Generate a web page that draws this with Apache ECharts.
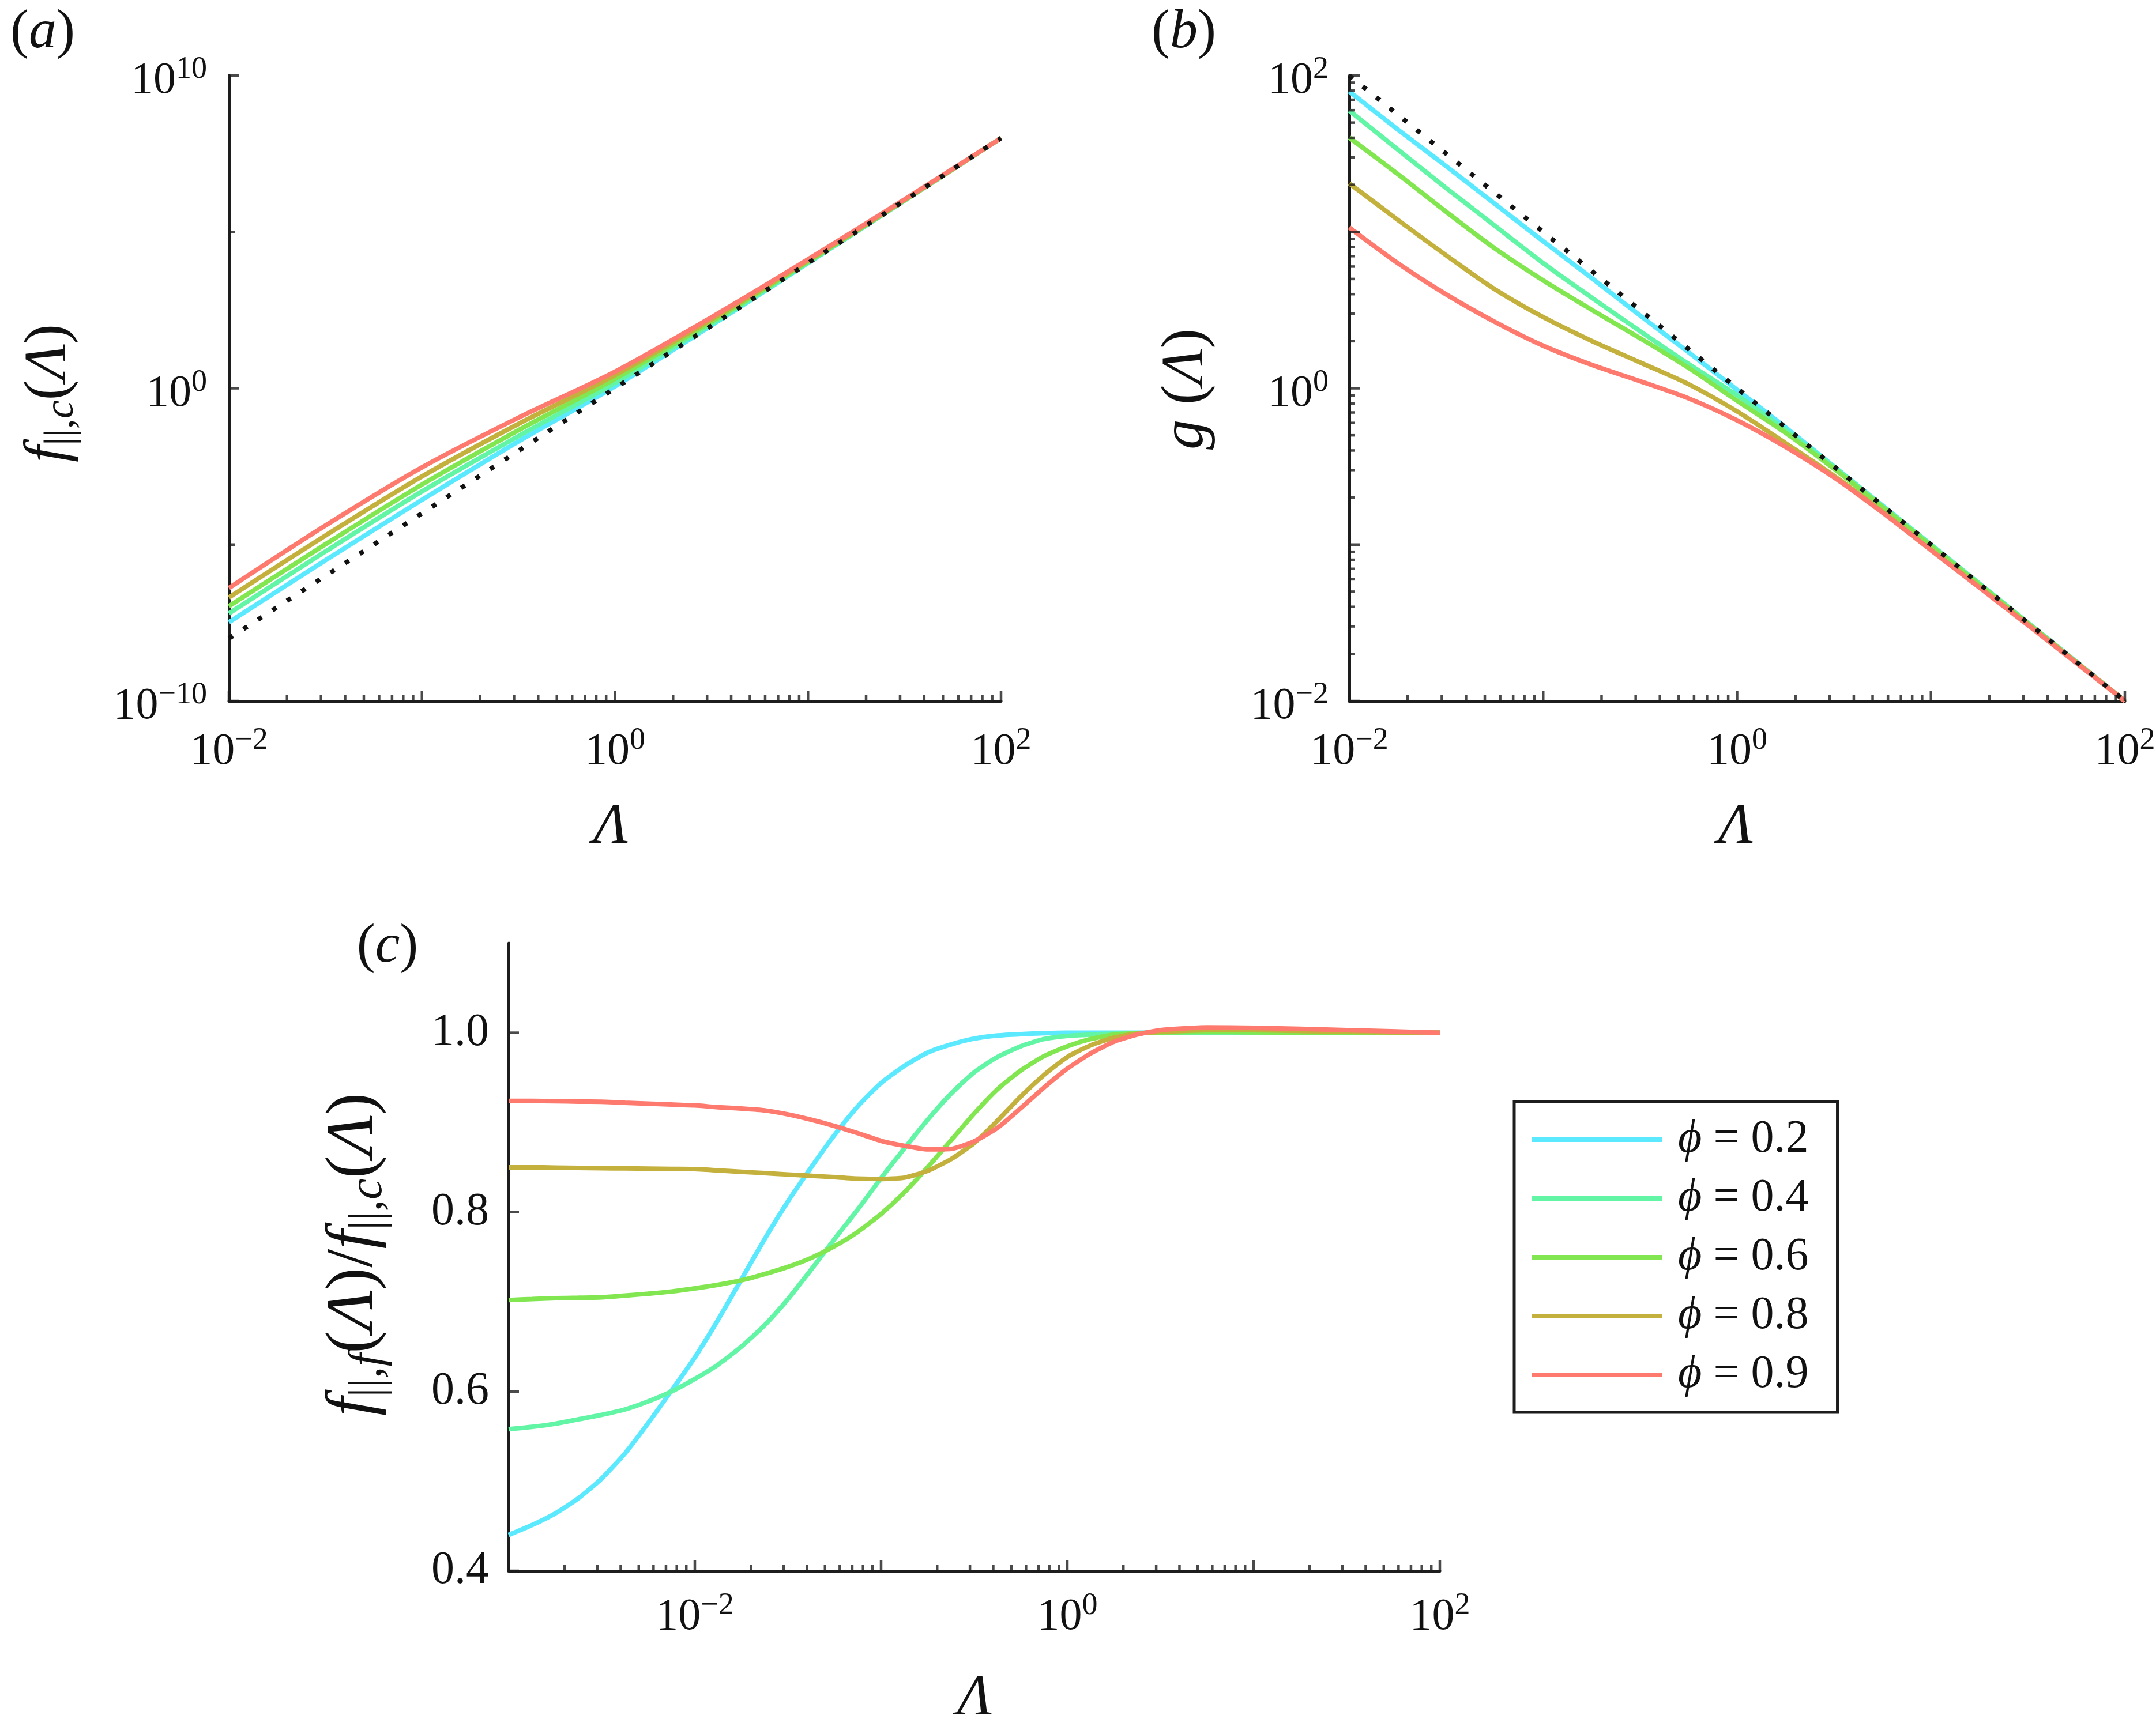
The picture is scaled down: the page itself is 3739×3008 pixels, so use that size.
<!DOCTYPE html>
<html>
<head>
<meta charset="utf-8">
<script src="https://cdn.jsdelivr.net/npm/echarts@6/dist/echarts.min.js"></script>
<style>
html,body{margin:0;padding:0;background:#ffffff;}
#chart{width:3739px;height:3008px;}
</style>
</head>
<body>
<div id="chart"></div>
<script>
// ------------------------------------------------------------------
// Data (exponents are log10 values)
// ------------------------------------------------------------------
const phiNames = ['ϕ = 0.2', 'ϕ = 0.4', 'ϕ = 0.6', 'ϕ = 0.8', 'ϕ = 0.9'];

// Panel (a): log10(Λ) and log10 f_{||,c}(Λ)
const aLogLam  = [-2, -1.5, -1, -0.5, 0, 0.5, 1, 1.5, 2];
const aLogF_02 = [-7.48, -5.50, -3.57, -1.70, 0.06, 2.01, 4.00, 6.00, 8.00];
const aLogF_04 = [-7.20, -5.22, -3.30, -1.53, 0.17, 2.06, 4.02, 6.00, 8.00];
const aLogF_06 = [-6.97, -4.99, -3.08, -1.34, 0.30, 2.13, 4.05, 6.01, 8.00];
const aLogF_08 = [-6.69, -4.71, -2.82, -1.14, 0.42, 2.20, 4.08, 6.02, 8.00];
const aLogF_09 = [-6.39, -4.39, -2.53, -0.94, 0.53, 2.27, 4.12, 6.04, 8.00];
const aRefLogLam = [-2, 2];
const aRefLogF   = [-8, 8];

// Panel (b): log10(Λ) and log10 g(Λ)
const bLogLam  = [-2, -1.75, -1.5, -1.25, -1, -0.75, -0.5, -0.25, 0, 0.25, 0.5, 0.75, 1, 1.5, 2];
const bLogG_02 = [1.898, 1.655, 1.420, 1.180, 0.940, 0.705, 0.465, 0.230, -0.010, -0.250, -0.500, -0.750, -1.000, -1.500, -2.000];
const bLogG_04 = [1.776, 1.527, 1.280, 1.040, 0.800, 0.580, 0.365, 0.155, -0.045, -0.268, -0.505, -0.755, -1.000, -1.500, -2.000];
const bLogG_06 = [1.603, 1.370, 1.128, 0.895, 0.690, 0.502, 0.320, 0.130, -0.080, -0.285, -0.515, -0.760, -1.010, -1.505, -2.000];
const bLogG_08 = [1.310, 1.077, 0.850, 0.634, 0.455, 0.303, 0.165, 0.026, -0.148, -0.351, -0.560, -0.790, -1.035, -1.510, -2.000];
const bLogG_09 = [1.028, 0.800, 0.600, 0.425, 0.272, 0.150, 0.045, -0.065, -0.205, -0.375, -0.570, -0.795, -1.035, -1.515, -2.000];
const bRefLogLam = [-2, 2];
const bRefLogG   = [2, -2];

// Panel (c): log10(Λ) and the ratio f_{||,f}/f_{||,c}
const cLogLam = [-3, -2.875, -2.75, -2.625, -2.5, -2.375, -2.25, -2.125, -2, -1.875, -1.75, -1.625, -1.5, -1.375, -1.25, -1.125,
                 -1, -0.875, -0.75, -0.625, -0.5, -0.375, -0.25, -0.125, 0, 0.125, 0.25, 0.375, 0.5, 0.75, 1, 1.5, 2];
const cRatio_02 = [0.440, 0.451, 0.464, 0.481, 0.503, 0.531, 0.565, 0.601, 0.638, 0.680, 0.725, 0.770, 0.812, 0.850, 0.886, 0.918,
                   0.944, 0.963, 0.978, 0.987, 0.9935, 0.997, 0.9985, 0.9995, 1.000, 1.000, 1.000, 1.000, 1.000, 1.000, 1.000, 1.000, 1.000];
const cRatio_04 = [0.558, 0.5605, 0.564, 0.569, 0.574, 0.580, 0.589, 0.600, 0.614, 0.630, 0.650, 0.674, 0.703, 0.736, 0.770, 0.803,
                   0.838, 0.871, 0.903, 0.932, 0.956, 0.973, 0.985, 0.993, 0.9965, 0.998, 0.999, 0.9997, 1.000, 1.000, 1.000, 1.000, 1.000];
const cRatio_06 = [0.702, 0.703, 0.704, 0.7045, 0.705, 0.707, 0.709, 0.7115, 0.715, 0.719, 0.724, 0.731, 0.739, 0.749, 0.762, 0.778,
                   0.798, 0.822, 0.850, 0.880, 0.910, 0.937, 0.958, 0.974, 0.985, 0.993, 0.998, 0.9995, 1.0003, 1.001, 1.0005, 1.000, 1.000];
const cRatio_08 = [0.850, 0.850, 0.8497, 0.8493, 0.849, 0.8488, 0.8485, 0.8482, 0.848, 0.8465, 0.845, 0.8435, 0.842, 0.8405, 0.839, 0.8375,
                   0.837, 0.8385, 0.846, 0.859, 0.877, 0.902, 0.929, 0.953, 0.973, 0.986, 0.9945, 0.999, 1.001, 1.003, 1.003, 1.001, 1.000];
const cRatio_09 = [0.924, 0.924, 0.9237, 0.9233, 0.923, 0.922, 0.921, 0.920, 0.919, 0.917, 0.9155, 0.9135, 0.909, 0.903, 0.896, 0.888,
                   0.8795, 0.874, 0.870, 0.8705, 0.879, 0.894, 0.916, 0.939, 0.960, 0.977, 0.990, 0.998, 1.003, 1.006, 1.0055, 1.003, 1.000];

// Tick labels (exponents shown as 10^e) and ticks
const aXLabelExp = [-2, 0, 2];
const aYLabelExp = [-10, 0, 10];
const bXLabelExp = [-2, 0, 2];
const bYLabelExp = [-2, 0, 2];
const cXLabelExp = [-2, 0, 2];
const cYLabels   = [0.4, 0.6, 0.8, 1.0];
const aYMajorTicks = [1e-10, 1, 1e10];
const aYMinorTicks = [1e-5, 1e5];
const minorMultipliers = [2, 3, 4, 5, 6, 7, 8, 9];

// ------------------------------------------------------------------
const FF = "'Liberation Serif', 'Times New Roman', 'DejaVu Serif', serif";
const INK = '#1d1d1d';
const TXT = '#111111';
const colors = ['#5BE9FF', '#62F5A6', '#82E650', '#C4B03C', '#FF7A6E'];

function pow10Pairs(lx, ly) { return lx.map((v, i) => [Math.pow(10, v), Math.pow(10, ly[i])]); }
function pow10XPairs(lx, y) { return lx.map((v, i) => [Math.pow(10, v), y[i]]); }
function decades(e0, e1) { const o = []; for (let e = e0; e <= e1; e++) o.push(Math.pow(10, e)); return o; }
function minors(e0, e1) { const o = []; for (let e = e0; e < e1; e++) minorMultipliers.forEach(k => o.push(k * Math.pow(10, e))); return o; }

function supLabel(list) {
  return function (v) {
    const e = Math.round(Math.log10(v));
    if (list.indexOf(e) < 0) return '';
    const s = e < 0 ? '\u2212' + Math.abs(e) : String(e);
    return '{b|10}{s|' + s + '}';
  };
}
const xLabelRich = {
  b: { fontSize: 78, fontFamily: FF, color: TXT, lineHeight: 84 },
  s: { fontSize: 54, fontFamily: FF, color: TXT, lineHeight: 54, padding: [0, 0, 40, 0] }
};
const yLabelRich = {
  b: { fontSize: 78, fontFamily: FF, color: TXT, lineHeight: 84, padding: [20, 0, 0, 0] },
  s: { fontSize: 54, fontFamily: FF, color: TXT, lineHeight: 54, padding: [0, 0, 20, 0] }
};

function baseAxis(extra) {
  return Object.assign({
    axisLine: { show: true, onZero: false, lineStyle: { color: INK, width: 5 } },
    axisTick: { show: false },
    splitLine: { show: false },
    minorTick: { show: false },
    minorSplitLine: { show: false }
  }, extra);
}

function xTickSeries(idx, vals, yAt, len) {
  return {
    type: 'scatter', xAxisIndex: idx, yAxisIndex: idx, silent: true, clip: false, z: 10,
    symbol: 'rect', symbolSize: [4.5, len], symbolOffset: [0, -len / 2],
    itemStyle: { color: INK }, data: vals.map(v => [v, yAt]), animation: false
  };
}
function yTickSeries(idx, vals, xAt, len) {
  return {
    type: 'scatter', xAxisIndex: idx, yAxisIndex: idx, silent: true, clip: false, z: 10,
    symbol: 'rect', symbolSize: [len, 4.5], symbolOffset: [len / 2, 0],
    itemStyle: { color: INK }, data: vals.map(v => [xAt, v]), animation: false
  };
}
function curve(idx, name, color, data, sm) {
  return {
    type: 'line', name: name, xAxisIndex: idx, yAxisIndex: idx, data: data,
    showSymbol: false, symbol: 'none', smooth: sm, color: color,
    lineStyle: { color: color, width: 8 }, z: 3, animation: false, silent: true
  };
}
function refLine(idx, data) {
  return {
    type: 'line', name: 'reference', xAxisIndex: idx, yAxisIndex: idx, data: data,
    showSymbol: false, symbol: 'none', color: '#111',
    lineStyle: { color: '#111', width: 8, type: [8, 22], cap: 'butt' }, z: 4, animation: false, silent: true
  };
}

const aSets = [aLogF_02, aLogF_04, aLogF_06, aLogF_08, aLogF_09];
const bSets = [bLogG_02, bLogG_04, bLogG_06, bLogG_08, bLogG_09];
const cSets = [cRatio_02, cRatio_04, cRatio_06, cRatio_08, cRatio_09];

const series = [];
aSets.forEach((s, i) => series.push(curve(0, phiNames[i], colors[i], pow10Pairs(aLogLam, s), 0.3)));
series.push(refLine(0, pow10Pairs(aRefLogLam, aRefLogF)));
bSets.forEach((s, i) => series.push(curve(1, phiNames[i], colors[i], pow10Pairs(bLogLam, s), 0.3)));
series.push(refLine(1, pow10Pairs(bRefLogLam, bRefLogG)));
cSets.forEach((s, i) => series.push(curve(2, phiNames[i], colors[i], pow10XPairs(cLogLam, s), 0.2)));

// ticks (inward)
series.push(xTickSeries(0, decades(-2, 2), 1e-10, 18));
series.push(xTickSeries(0, minors(-2, 2), 1e-10, 10));
series.push(yTickSeries(0, aYMajorTicks, 1e-2, 18));
series.push(yTickSeries(0, aYMinorTicks, 1e-2, 10));
series.push(xTickSeries(1, decades(-2, 2), 1e-2, 18));
series.push(xTickSeries(1, minors(-2, 2), 1e-2, 10));
series.push(yTickSeries(1, decades(-2, 2), 1e-2, 18));
series.push(yTickSeries(1, minors(-2, 2), 1e-2, 10));
series.push(xTickSeries(2, decades(-3, 2), 0.4, 18));
series.push(xTickSeries(2, minors(-3, 2), 0.4, 10));
series.push(yTickSeries(2, cYLabels, 1e-3, 18));

const italic = { fontStyle: 'italic', fontFamily: FF };
function titleText(x, y, text, size, rot, subSize, subDrop) {
  return {
    type: 'text', x: x, y: y, rotation: rot || 0, z: 20, silent: true,
    style: {
      text: text, fontSize: size, fontFamily: FF, fill: TXT, align: 'center', verticalAlign: 'middle',
      rich: {
        i: Object.assign({ fontSize: size }, italic),
        s: { fontSize: subSize || size, fontFamily: FF, padding: [subDrop || 0, 0, 0, 0] },
        si: Object.assign({ fontSize: subSize || size, padding: [subDrop || 0, 0, 0, 0] }, italic)
      }
    }
  };
}

const option = {
  backgroundColor: '#ffffff',
  animation: false,
  grid: [
    { left: 397, top: 131, width: 1339, height: 1085, containLabel: false, outerBoundsMode: 'none' },
    { left: 2340, top: 131, width: 1345, height: 1085, containLabel: false, outerBoundsMode: 'none' },
    { left: 882, top: 1636, width: 1615, height: 1089, containLabel: false, outerBoundsMode: 'none' }
  ],
  xAxis: [
    baseAxis({ type: 'log', logBase: 10, gridIndex: 0, min: 1e-2, max: 1e2,
      axisLabel: { margin: 47, formatter: supLabel(aXLabelExp), rich: xLabelRich } }),
    baseAxis({ type: 'log', logBase: 10, gridIndex: 1, min: 1e-2, max: 1e2,
      axisLabel: { margin: 47, formatter: supLabel(bXLabelExp), rich: xLabelRich } }),
    baseAxis({ type: 'log', logBase: 10, gridIndex: 2, min: 1e-3, max: 1e2,
      axisLabel: { margin: 39, formatter: supLabel(cXLabelExp), rich: xLabelRich } })
  ],
  yAxis: [
    baseAxis({ type: 'log', logBase: 10, gridIndex: 0, min: 1e-10, max: 1e10,
      axisLabel: { margin: 38, formatter: supLabel(aYLabelExp), rich: yLabelRich } }),
    baseAxis({ type: 'log', logBase: 10, gridIndex: 1, min: 1e-2, max: 1e2,
      axisLabel: { margin: 36, formatter: supLabel(bYLabelExp), rich: yLabelRich } }),
    baseAxis({ type: 'value', gridIndex: 2, min: 0.4, max: 1.1, interval: 0.2,
      axisLabel: { margin: 34, fontSize: 80, fontFamily: FF, color: TXT,
        formatter: function (v) {
          for (let k = 0; k < cYLabels.length; k++) if (Math.abs(v - cYLabels[k]) < 1e-6) return cYLabels[k].toFixed(1);
          return '';
        } } })
  ],
  legend: {
    data: phiNames,
    orient: 'vertical',
    left: 2626, top: 1911,
    icon: 'rect', itemWidth: 227, itemHeight: 8, itemGap: 22,
    padding: [26, 50, 25, 30],
    borderColor: INK, borderWidth: 5, backgroundColor: '#ffffff',
    selectedMode: false,
    formatter: function (name) { return '{g| }{i|ϕ}{n| = ' + name.split('= ')[1] + '}'; },
    textStyle: {
      fontSize: 80, fontFamily: FF, color: TXT, lineHeight: 80,
      rich: {
        g: { width: 22, fontSize: 80 },
        i: { fontStyle: 'italic', fontSize: 80, fontFamily: FF, color: TXT },
        n: { fontSize: 80, fontFamily: FF, color: TXT }
      }
    }
  },
  graphic: [
    titleText(74, 57, '({i|a})', 96),
    titleText(2053, 57, '({i|b})', 96),
    titleText(672, 1643, '({i|c})', 96),
    titleText(1059, 1436, '{i|Λ}', 100),
    titleText(3010, 1436, '{i|Λ}', 100),
    titleText(1690, 2948, '{i|Λ}', 100),
    titleText(86, 682, '{i|f}{s|||,}{si|c}({i|Λ})', 104, Math.PI / 2, 72, 42),
    titleText(2058, 675, '{i|g} ({i|Λ})', 104, Math.PI / 2),
    titleText(614, 2176, '{i|f}{s|||,}{si|f}({i|Λ})/{i|f}{s|||,}{si|c}({i|Λ})', 117, Math.PI / 2, 82, 50)
  ],
  series: series
};

const chart = echarts.init(document.getElementById('chart'), null, { renderer: 'canvas' });
chart.setOption(option);
</script>
</body>
</html>
